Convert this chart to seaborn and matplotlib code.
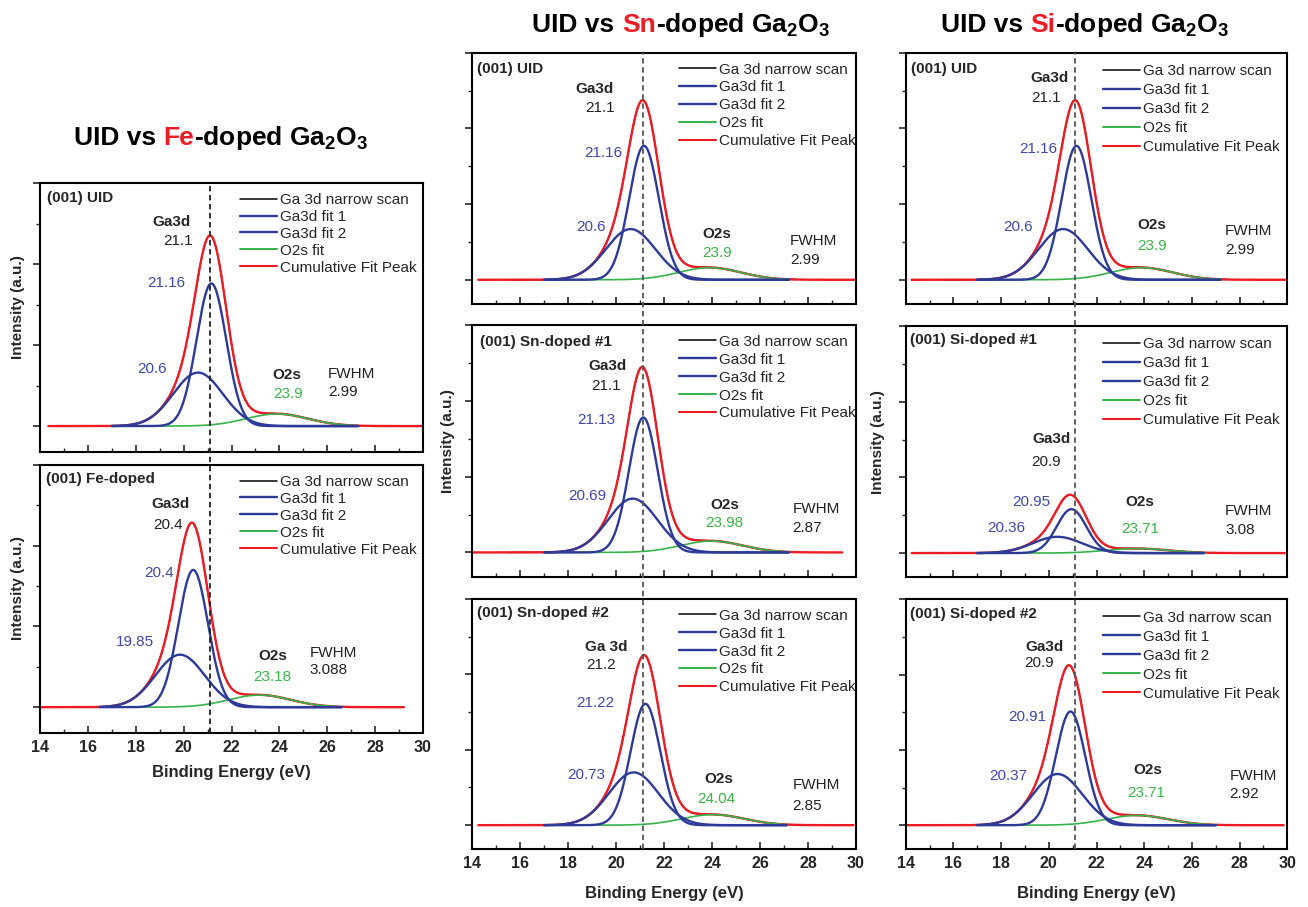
import numpy as np
import pandas as pd
import matplotlib
matplotlib.use("Agg")
import matplotlib.pyplot as plt
import seaborn as sns
from matplotlib.ticker import MultipleLocator
from matplotlib.lines import Line2D
from matplotlib.transforms import IdentityTransform, blended_transform_factory

# ---------------- data ----------------
# panel order: Fe-column (UID, Fe), Sn-column (UID, #1, #2), Si-column (UID, #1, #2)
panel_tags = ["(001) UID", "(001) Fe-doped",
              "(001) UID", "(001) Sn-doped #1", "(001) Sn-doped #2",
              "(001) UID", "(001) Si-doped #1", "(001) Si-doped #2"]
ga3d_words = ["Ga3d", "Ga3d", "Ga3d", "Ga3d", "Ga 3d", "Ga3d", "Ga3d", "Ga3d"]
ga3d_peak = ["21.1", "20.4", "21.1", "21.1", "21.2", "21.1", "20.9", "20.9"]

fit1_center = [21.16, 20.40, 21.16, 21.13, 21.22, 21.16, 20.95, 20.91]
fit1_height = [1.76, 1.70, 1.77, 1.78, 1.61, 1.77, 0.58, 1.51]
fit1_sigma = [0.62, 0.62, 0.62, 0.60, 0.62, 0.62, 0.62, 0.62]
fit1_text = ["21.16", "20.4", "21.16", "21.13", "21.22", "21.16", "20.95", "20.91"]

fit2_center = [20.60, 19.85, 20.60, 20.69, 20.73, 20.60, 20.36, 20.37]
fit2_height = [0.66, 0.65, 0.67, 0.71, 0.70, 0.67, 0.215, 0.68]
fit2_sigma = [1.03, 1.03, 1.03, 1.03, 1.03, 1.03, 1.03, 1.03]
fit2_text = ["20.6", "19.85", "20.6", "20.69", "20.73", "20.6", "20.36", "20.37"]

o2s_center = [23.90, 23.18, 23.90, 23.98, 24.04, 23.90, 23.71, 23.71]
o2s_height = [0.15, 0.15, 0.16, 0.15, 0.14, 0.16, 0.06, 0.13]
o2s_sigma = [1.30, 1.30, 1.30, 1.30, 1.30, 1.30, 1.30, 1.30]
o2s_text = ["23.9", "23.18", "23.9", "23.98", "24.04", "23.9", "23.71", "23.71"]

fwhm_text = ["2.99", "3.088", "2.99", "2.87", "2.85", "2.99", "3.08", "2.92"]

scan_start = [15.6, 15.4, 15.5, 15.5, 14.6, 15.5, 16.0, 15.5]
scan_end = [27.5, 26.6, 27.5, 27.5, 29.0, 27.5, 26.5, 27.0]
fit_start = [17.0, 16.5, 17.0, 17.0, 17.0, 17.0, 17.0, 17.0]
fit_end = [27.3, 26.6, 27.2, 27.2, 27.1, 27.2, 26.5, 27.0]
cum_start = [14.35, 14.07, 14.25, 14.0, 14.25, 14.25, 14.25, 14.0]
cum_end = [29.94, 29.2, 29.94, 29.43, 29.9, 29.95, 29.9, 29.85]

legend_labels = ["Ga 3d narrow scan", "Ga3d fit 1", "Ga3d fit 2", "O2s fit", "Cumulative Fit Peak"]
dopants = ["Fe", "Sn", "Si"]
ref_energy = 21.1
x_ticks = [14, 16, 18, 20, 22, 24, 26, 28, 30]
y_ticks = [0, 1, 2, 3]

# ---------------- layout / style ----------------
W, H = 1308, 907
RED = "#ec1c24"
BLUE = "#2d3a98"
BLUE_T = "#3e4aa9"
GREEN = "#35b34a"
GREEN_T = "#3db54a"
FONT = ["Liberation Sans", "DejaVu Sans"]

# axes boxes in pixels (x0, y0_top, x1, y1_bottom)
boxes = [(40, 183, 423, 452), (40, 465, 423, 733),
         (472.3, 52.7, 856, 304), (472.3, 325, 856, 576.7), (472.3, 599, 856, 849.3),
         (905.7, 52.7, 1287.3, 304), (905.7, 326, 1287.3, 577.3), (905.7, 599.3, 1287.3, 849.3)]
columns = [[0, 1], [2, 3, 4], [5, 6, 7]]
column_col = [0, 0, 1, 1, 1, 2, 2, 2]
show_ylabel = [True, True, False, True, False, False, True, False]
show_xlabels = [False, True, False, False, True, False, False, True]
ylabel_x = [-0.040, -0.046, -0.055]
xlabel_y = [-0.118, -0.148, -0.148]
legend_anchor = [(0.522, 0.963), (0.54, 0.961), (0.517, 0.955)]
legend_spacing = [0.19, 0.255, 0.33]
dash_colors = ["#222222", "#555555", "#555555"]
titles_pos = [(221, 145), (681, 31.7), (1085, 31.7)]

# text positions in data coords: tag, ga, gaval, f1, f2, o2s, o2sval, fwhm, fwhmval
text_pos = [
    [(14.28, 2.81), (19.5, 2.52), (19.78, 2.29), (19.29, 1.76), (18.67, 0.71), (24.3, 0.63), (24.37, 0.40), (26.04, 0.64), (26.04, 0.42)],
    [(14.25, 2.83), (19.46, 2.52), (19.36, 2.26), (18.98, 1.66), (17.97, 0.81), (23.72, 0.63), (23.72, 0.37), (25.25, 0.665), (25.25, 0.46)],
    [(14.21, 2.78), (19.11, 2.52), (19.32, 2.27), (19.46, 1.68), (18.97, 0.70), (24.18, 0.60), (24.22, 0.35), (27.24, 0.51), (27.24, 0.26)],
    [(14.32, 2.78), (19.64, 2.46), (19.57, 2.20), (19.18, 1.75), (18.79, 0.75), (24.53, 0.63), (24.49, 0.39), (27.35, 0.57), (27.35, 0.32)],
    [(14.18, 2.82), (19.6, 2.36), (19.39, 2.12), (19.11, 1.62), (18.77, 0.67), (24.29, 0.61), (24.18, 0.35), (27.35, 0.53), (27.35, 0.26)],
    [(14.21, 2.78), (20.05, 2.67), (19.87, 2.40), (19.56, 1.73), (18.72, 0.70), (24.31, 0.73), (24.31, 0.44), (27.39, 0.65), (27.39, 0.40)],
    [(14.18, 2.82), (20.12, 1.51), (19.87, 1.20), (19.28, 0.68), (18.2, 0.33), (23.82, 0.67), (23.85, 0.32), (27.39, 0.56), (27.39, 0.31)],
    [(14.18, 2.81), (19.84, 2.37), (19.59, 2.15), (19.11, 1.44), (18.28, 0.65), (24.15, 0.73), (24.1, 0.43), (27.57, 0.66), (27.57, 0.41)],
]

sns.set_style("ticks")
plt.rcParams.update({
    "font.family": FONT,
    "mathtext.fontset": "custom",
    "mathtext.rm": "Liberation Sans:bold",
    "mathtext.it": "Liberation Sans:bold",
    "mathtext.bf": "Liberation Sans:bold",
    "mathtext.sf": "Liberation Sans:bold",
    "mathtext.default": "rm",
    "axes.edgecolor": "black",
    "axes.linewidth": 1.5,
})


def gauss(x, c, h, s):
    return h * np.exp(-0.5 * ((x - c) / s) ** 2)


fig = plt.figure(figsize=(W / 100, H / 100), dpi=100)
axes = []
FS = 11
for i in range(8):
    x0, y0, x1, y1 = boxes[i]
    ax = fig.add_axes([x0 / W, 1 - y1 / H, (x1 - x0) / W, (y1 - y0) / H])
    ax.set_facecolor("none")
    axes.append(ax)
    col = column_col[i]

    def comps(x):
        return (gauss(x, fit1_center[i], fit1_height[i], fit1_sigma[i]),
                gauss(x, fit2_center[i], fit2_height[i], fit2_sigma[i]),
                gauss(x, o2s_center[i], o2s_height[i], o2s_sigma[i]))

    xs_scan = np.linspace(scan_start[i], scan_end[i], 500)
    xs_fit = np.linspace(fit_start[i], fit_end[i], 500)
    xs_cum = np.linspace(cum_start[i], cum_end[i], 600)
    scan = sum(comps(xs_scan))
    f1, f2, o2 = comps(xs_fit)
    cum = sum(comps(xs_cum))

    df_scan = pd.DataFrame({"E": xs_scan, "I": scan})
    df_cum = pd.DataFrame({"E": xs_cum, "I": cum})
    df_fit = pd.DataFrame({"E": xs_fit, "f1": f1, "f2": f2, "o2": o2})

    kw = dict(ax=ax, estimator=None, sort=False, legend=False)
    sns.lineplot(data=df_scan, x="E", y="I", color="black", lw=1.0, **kw)
    sns.lineplot(data=df_cum, x="E", y="I", color=RED, lw=1.7, **kw)
    sns.lineplot(data=df_fit, x="E", y="o2", color=GREEN, lw=1.2, **kw)
    sns.lineplot(data=df_fit, x="E", y="f2", color=BLUE, lw=1.7, **kw)
    sns.lineplot(data=df_fit, x="E", y="f1", color=BLUE, lw=1.7, **kw)

    ax.set_xlim(14, 30)
    ax.set_ylim(-0.32, 3.0)
    ax.set_xticks(x_ticks, labels=[str(t) for t in x_ticks], fontweight="bold", fontsize=11.5)
    ax.xaxis.set_minor_locator(MultipleLocator(1))
    ax.set_yticks(y_ticks)
    ax.yaxis.set_minor_locator(MultipleLocator(0.5))
    ax.tick_params(axis="x", which="major", direction="in", length=5, width=1.2, top=False,
                   labelbottom=show_xlabels[i], pad=5)
    ax.tick_params(axis="x", which="minor", direction="in", length=3, width=1.0, top=False)
    ax.tick_params(axis="y", which="major", direction="out", length=5, width=1.2, right=False,
                   labelleft=False)
    ax.tick_params(axis="y", which="minor", direction="out", length=3, width=1.0, right=False)
    for sp in ax.spines.values():
        sp.set_visible(True)
        sp.set_linewidth(1.5)

    if show_ylabel[i]:
        ax.set_ylabel("Intensity (a.u.)", fontsize=11, fontweight="bold")
        ax.yaxis.set_label_coords(ylabel_x[col], 0.54)
    else:
        ax.set_ylabel("")
    if show_xlabels[i]:
        ax.set_xlabel("Binding Energy (eV)", fontsize=12, fontweight="bold")
        ax.xaxis.set_label_coords(0.5, xlabel_y[col])
    else:
        ax.set_xlabel("")

    p = text_pos[i]
    ax.text(*p[0], panel_tags[i], fontsize=FS, fontweight="bold", ha="left", va="center")
    ax.text(*p[1], ga3d_words[i], fontsize=FS, fontweight="bold", ha="center", va="center")
    ax.text(*p[2], ga3d_peak[i], fontsize=FS, color="#222222", ha="center", va="center")
    ax.text(*p[3], fit1_text[i], fontsize=FS, color=BLUE_T, ha="center", va="center")
    ax.text(*p[4], fit2_text[i], fontsize=FS, color=BLUE_T, ha="center", va="center")
    ax.text(*p[5], "O2s", fontsize=FS, fontweight="bold", ha="center", va="center")
    ax.text(*p[6], o2s_text[i], fontsize=FS, color=GREEN_T, ha="center", va="center")
    ax.text(*p[7], "FWHM", fontsize=FS, color="#222222", ha="left", va="center")
    ax.text(*p[8], fwhm_text[i], fontsize=FS, color="#222222", ha="left", va="center")

    handles = [Line2D([], [], color="black", lw=1.1),
               Line2D([], [], color=BLUE, lw=1.7),
               Line2D([], [], color=BLUE, lw=1.7),
               Line2D([], [], color=GREEN, lw=1.4),
               Line2D([], [], color=RED, lw=1.5)]
    ax.legend(handles, legend_labels, loc="upper left", bbox_to_anchor=legend_anchor[col],
              frameon=False, fontsize=FS, handlelength=2.4, handletextpad=0.2,
              labelspacing=legend_spacing[col], borderpad=0, borderaxespad=0)

# dashed reference line through each column
for c, idxs in enumerate(columns):
    top_ax = axes[idxs[0]]
    y_top = 1 - boxes[idxs[0]][1] / H
    y_bot = 1 - boxes[idxs[-1]][3] / H
    tr = blended_transform_factory(top_ax.transData, fig.transFigure)
    fig.add_artist(Line2D([ref_energy, ref_energy], [y_bot, y_top], transform=tr,
                          color=dash_colors[c], lw=1.3, linestyle=(0, (3, 2)), zorder=5))

# multi-coloured column titles
renderer = fig.canvas.get_renderer()
tkw = dict(fontsize=19, fontweight="bold", transform=IdentityTransform(), va="baseline", ha="left")


def width(s):
    t = fig.text(0, 0, s, **tkw)
    w = t.get_window_extent(renderer).width
    t.remove()
    return w


for c, dop in enumerate(dopants):
    p1, p2, p3 = "UID vs", dop, "-doped Ga$_2$O$_3$"
    w1, w2, w3 = width(p1), width(p2), width(p3)
    gap1 = width(p1 + " " + p2) - w1 - w2
    gap2 = width(p2 + p3) - w2 - w3
    total = w1 + gap1 + w2 + gap2 + w3
    xc, yb = titles_pos[c]
    xs = xc - total / 2
    yb = H - yb
    fig.text(xs, yb, p1, color="black", **tkw)
    fig.text(xs + w1 + gap1, yb, p2, color=RED, **tkw)
    fig.text(xs + w1 + gap1 + w2 + gap2, yb, p3, color="black", **tkw)

fig.savefig("out.png", dpi=100)
